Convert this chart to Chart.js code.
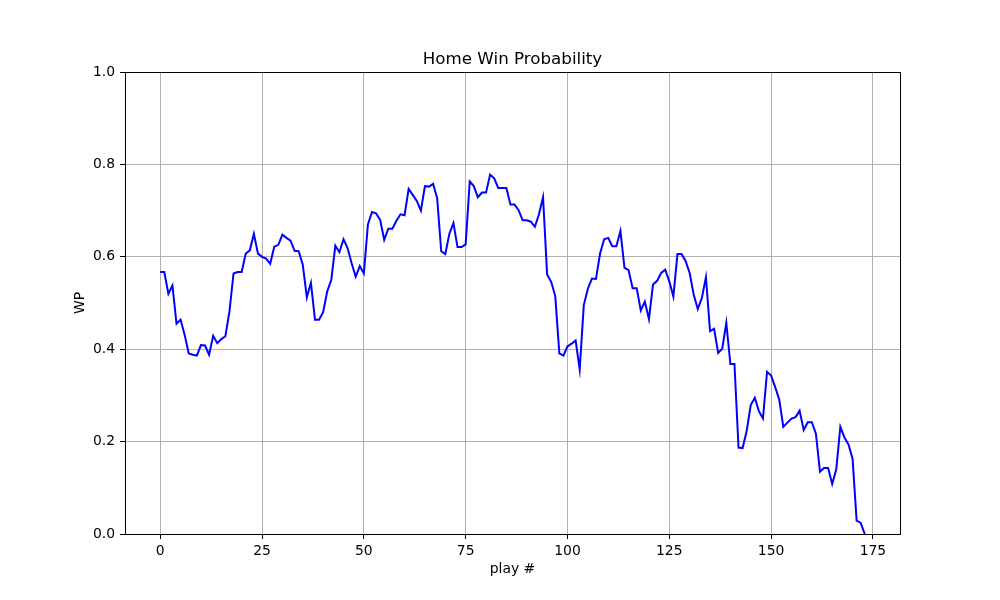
<!DOCTYPE html>
<html>
<head>
<meta charset="utf-8">
<script src="https://cdn.jsdelivr.net/npm/chart.js@4"></script>
<style>
  body { margin: 0; background: #fff; }
</style>
</head>
<body>
<canvas id="chart" width="1000" height="600"></canvas>
<script>
// home win probability after each play (play # = index)
const wp = [
    0.567, 0.567, 0.520, 0.538, 0.455, 0.464, 0.431, 0.391, 0.388, 0.386,
    0.409, 0.408, 0.388, 0.429, 0.413, 0.422, 0.428, 0.482, 0.564, 0.567,
    0.567, 0.607, 0.614, 0.650, 0.607, 0.600, 0.596, 0.585, 0.622, 0.626,
    0.648, 0.641, 0.635, 0.613, 0.612, 0.583, 0.512, 0.544, 0.464, 0.464,
    0.480, 0.525, 0.550, 0.624, 0.610, 0.638, 0.619, 0.586, 0.557, 0.580,
    0.564, 0.670, 0.697, 0.694, 0.680, 0.637, 0.661, 0.661, 0.678, 0.692,
    0.690, 0.747, 0.734, 0.721, 0.700, 0.753, 0.752, 0.758, 0.727, 0.612,
    0.606, 0.650, 0.673, 0.621, 0.621, 0.627, 0.763, 0.753, 0.729, 0.739,
    0.739, 0.778, 0.770, 0.749, 0.749, 0.749, 0.713, 0.713, 0.701, 0.679,
    0.679, 0.676, 0.665, 0.692, 0.729, 0.562, 0.546, 0.515, 0.391, 0.386,
    0.406, 0.412, 0.419, 0.356, 0.495, 0.531, 0.553, 0.552, 0.607, 0.638,
    0.641, 0.623, 0.623, 0.656, 0.576, 0.571, 0.532, 0.532, 0.484, 0.503,
    0.465, 0.540, 0.548, 0.565, 0.572, 0.547, 0.514, 0.606, 0.606, 0.591,
    0.565, 0.518, 0.487, 0.511, 0.556, 0.439, 0.444, 0.392, 0.401, 0.457,
    0.368, 0.368, 0.187, 0.186, 0.223, 0.279, 0.295, 0.266, 0.250, 0.351,
    0.343, 0.318, 0.291, 0.232, 0.241, 0.250, 0.253, 0.267, 0.225, 0.242,
    0.242, 0.217, 0.135, 0.143, 0.143, 0.108, 0.140, 0.232, 0.209, 0.194,
    0.163, 0.029, 0.024, 0.000
];
const xTicks = [0, 25, 50, 75, 100, 125, 150, 175];
const yTicks = [0.0, 0.2, 0.4, 0.6, 0.8, 1.0];

const points = wp.map((v, i) => ({x: i, y: v}));

Chart.defaults.font.family = "'DejaVu Sans', sans-serif";
Chart.defaults.color = "#000";

// top and right spines, title centred over the plot area
const frame = {
    id: "frame",
    afterLayout(chart){
        const t = chart.titleBlock;
        if (t) {
            t.left = chart.chartArea.left;
            t.right = chart.chartArea.right;
            t.width = t.right - t.left;
        }
    },
    afterDraw(chart){
        const a = chart.chartArea;
        const ctx = chart.ctx;
        ctx.save();
        ctx.strokeStyle = "#000";
        ctx.lineWidth = 1;
        ctx.strokeRect(Math.round(a.left) + 0.5, Math.round(a.top) + 0.5,
            Math.round(a.right - a.left), Math.round(a.bottom - a.top));
        ctx.restore();
    }
};

new Chart(document.getElementById("chart"), {
    type: "line",
    data: {
        datasets: [{
            label: "WP",
            data: points,
            borderColor: "#0000ff",
            borderWidth: 2,
            pointRadius: 0,
            tension: 0,
            fill: false
        }]
    },
    options: {
        responsive: false,
        animation: false,
        layout: {padding: {left: 0, right: 100, top: 0, bottom: 0}},
        plugins: {
            legend: {display: false},
            tooltip: {enabled: false},
            title: {
                display: true,
                text: "Home Win Probability",
                font: {size: 16.7, weight: "normal"},
                lineHeight: 1.2,
                padding: {top: 50, bottom: 2}
            }
        },
        scales: {
            x: {
                type: "linear",
                min: -8.65,
                max: 181.65,
                afterBuildTicks: s => { s.ticks = xTicks.map(v => ({value: v})); },
                afterFit: s => { s.height = 66; },
                ticks: {font: {size: 13.9}, padding: 4, maxRotation: 0,
                    callback: v => String(v)},
                grid: {color: "#b0b0b0", lineWidth: 1, tickColor: "#000",
                    tickLength: 5, tickWidth: 1},
                border: {color: "#000", width: 1},
                title: {display: true, text: "play #", font: {size: 13.9},
                    padding: {top: 0, bottom: 22}}
            },
            y: {
                min: 0,
                max: 1,
                afterBuildTicks: s => { s.ticks = yTicks.map(v => ({value: v})); },
                afterFit: s => { s.width = 125; },
                ticks: {font: {size: 13.9}, padding: 5,
                    callback: v => Number(v).toFixed(1)},
                grid: {color: "#b0b0b0", lineWidth: 1, tickColor: "#000",
                    tickLength: 5, tickWidth: 1},
                border: {color: "#000", width: 1},
                title: {display: true, text: "WP", font: {size: 13.9},
                    padding: {top: 72, bottom: 0}}
            }
        }
    },
    plugins: [frame]
});
</script>
</body>
</html>
